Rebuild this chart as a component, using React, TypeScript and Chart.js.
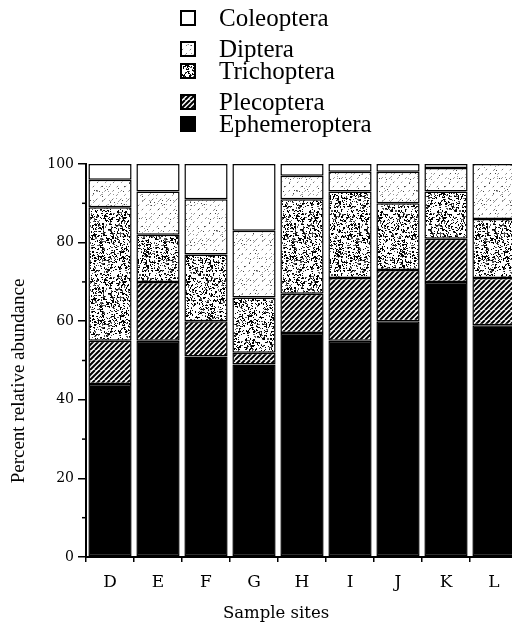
import React, { useEffect, useRef } from "react";
import { Chart, registerables } from "chart.js";

Chart.register(...registerables);

const categories = ["D", "E", "F", "G", "H", "I", "J", "K", "L"];
const ephemeroptera = [44, 55, 51, 49, 57, 55, 60, 70, 59];
const plecoptera = [11, 15, 9, 3, 10, 16, 13, 11, 12];
const trichoptera = [34, 12, 17, 14, 24, 22, 17, 12, 15];
const diptera = [7, 11, 14, 17, 6, 5, 8, 6, 14];
const coleoptera = [4, 7, 9, 17, 3, 2, 2, 1, 0];
const yTicks = [0, 20, 40, 60, 80, 100];
const yMinorTicks = [10, 30, 50, 70, 90];
const xTitle = "Sample sites";
const yTitle = "Percent relative abundance";

function lcg(seed: number) {
  let s = seed >>> 0;
  return () => {
    s = (Math.imul(s, 1664525) + 1013904223) >>> 0;
    return s / 4294967296;
  };
}

function tile(size: number) {
  const c = document.createElement("canvas");
  c.width = size;
  c.height = size;
  const g = c.getContext("2d")!;
  g.fillStyle = "#fff";
  g.fillRect(0, 0, size, size);
  return { c, g };
}

function hatchPattern(ctx: CanvasRenderingContext2D) {
  const { c, g } = tile(10);
  g.strokeStyle = "#000";
  g.lineWidth = 2;
  for (const o of [-10, -5, 0, 5, 10]) {
    g.beginPath();
    g.moveTo(o, 10);
    g.lineTo(o + 10, 0);
    g.stroke();
  }
  return ctx.createPattern(c, "repeat")!;
}

function stipplePattern(ctx: CanvasRenderingContext2D) {
  const size = 64;
  const { c, g } = tile(size);
  const r = lcg(12345);
  for (let i = 0; i < 1100; i++) {
    const x = Math.floor(r() * size);
    const y = Math.floor(r() * size);
    g.fillStyle = r() < 0.7 ? "#000" : "#555";
    g.fillRect(x, y, r() < 0.2 ? 2 : 1, r() < 0.2 ? 2 : 1);
  }
  return ctx.createPattern(c, "repeat")!;
}

function lightPattern(ctx: CanvasRenderingContext2D) {
  const size = 40;
  const { c, g } = tile(size);
  g.strokeStyle = "#777";
  g.lineWidth = 1;
  g.setLineDash([2, 4]);
  for (let o = -size; o <= size; o += 8) {
    g.beginPath();
    g.moveTo(o, size);
    g.lineTo(o + size, 0);
    g.stroke();
  }
  const r = lcg(777);
  for (let i = 0; i < 60; i++) {
    g.fillStyle = r() < 0.5 ? "#444" : "#999";
    g.fillRect(Math.floor(r() * size), Math.floor(r() * size), 1, 1);
  }
  return ctx.createPattern(c, "repeat")!;
}

export default function App() {
  const ref = useRef<HTMLCanvasElement | null>(null);

  useEffect(() => {
    const canvas = ref.current!;
    const ctx = canvas.getContext("2d")!;
    const fills = {
      eph: "#000",
      ple: hatchPattern(ctx),
      tri: stipplePattern(ctx),
      dip: lightPattern(ctx),
      col: "#fff",
    };

    const mk = (label: string, data: number[], bg: any) => ({
      label,
      data,
      backgroundColor: bg,
      borderColor: "#000",
      borderWidth: 1.5,
      borderSkipped: false,
      barPercentage: 0.9,
      categoryPercentage: 1,
    });

    const legendRowsY = [18, 49, 71, 102, 124];

    const decorations = {
      id: "decorations",
      afterDraw(chart: any) {
        const c: CanvasRenderingContext2D = chart.ctx;
        const area = chart.chartArea;
        const ys = chart.scales.y;
        c.save();
        // minor y ticks
        c.strokeStyle = "#000";
        c.lineWidth = 1.5;
        for (const v of yMinorTicks) {
          const py = ys.getPixelForValue(v);
          c.beginPath();
          c.moveTo(area.left - 4, py);
          c.lineTo(area.left, py);
          c.stroke();
        }
        // legend (top to bottom, reverse of stacking)
        const ds = chart.data.datasets.slice().reverse();
        ds.forEach((d: any, i: number) => {
          const cy = legendRowsY[i];
          c.fillStyle = d.backgroundColor;
          c.fillRect(181, cy - 7, 14, 14);
          c.strokeStyle = "#000";
          c.lineWidth = 2;
          c.strokeRect(181, cy - 7, 14, 14);
          c.fillStyle = "#000";
          c.font = '25px "Liberation Serif"';
          c.textAlign = "left";
          c.textBaseline = "middle";
          c.fillText(d.label, 219, cy + 1);
        });
        // axis titles
        c.fillStyle = "#000";
        c.font = '16.5px "DejaVu Serif"';
        c.textAlign = "center";
        c.textBaseline = "middle";
        c.fillText(xTitle, 276, 614);
        c.translate(19, 381);
        c.rotate(-Math.PI / 2);
        c.font = '19px "Liberation Serif"';
        c.fillText(yTitle, 0, 0);
        c.restore();
      },
    };

    const chart = new Chart(canvas, {
      type: "bar",
      data: {
        labels: categories,
        datasets: [
          mk("Ephemeroptera", ephemeroptera, fills.eph),
          mk("Plecoptera", plecoptera, fills.ple),
          mk("Trichoptera", trichoptera, fills.tri),
          mk("Diptera", diptera, fills.dip),
          mk("Coleoptera", coleoptera, fills.col),
        ] as any,
      },
      options: {
        responsive: false,
        animation: false,
        layout: { padding: { top: 164, right: 12, left: 0, bottom: 0 } },
        plugins: { legend: { display: false }, tooltip: { enabled: false } },
        scales: {
          x: {
            stacked: true,
            grid: { offset: true, drawOnChartArea: false, tickLength: 5, color: "#000", lineWidth: 1.5 },
            border: { color: "#000", width: 2 },
            ticks: { color: "#000", font: { family: "DejaVu Serif", size: 17 }, padding: 10 },
            afterFit: (s: any) => {
              s.height = 67;
            },
          },
          y: {
            stacked: true,
            min: 0,
            max: 100,
            afterBuildTicks: (s: any) => {
              s.ticks = yTicks.map((v) => ({ value: v }));
            },
            ticks: { color: "#000", font: { family: "DejaVu Serif", size: 14 }, padding: 4 },
            grid: { drawOnChartArea: false, tickLength: 8, color: "#000", lineWidth: 1.5 },
            border: { color: "#000", width: 2 },
            afterFit: (s: any) => {
              s.width = 86;
            },
          },
        },
      } as any,
      plugins: [decorations],
    });
    return () => chart.destroy();
  }, []);

  return (
    <div
      style={{
        position: "fixed",
        left: 0,
        top: 0,
        width: 512,
        height: 624,
        overflow: "hidden",
        background: "#fff",
      }}
    >
      <canvas ref={ref} width={530} height={624} style={{ display: "block" }} />
    </div>
  );
}
